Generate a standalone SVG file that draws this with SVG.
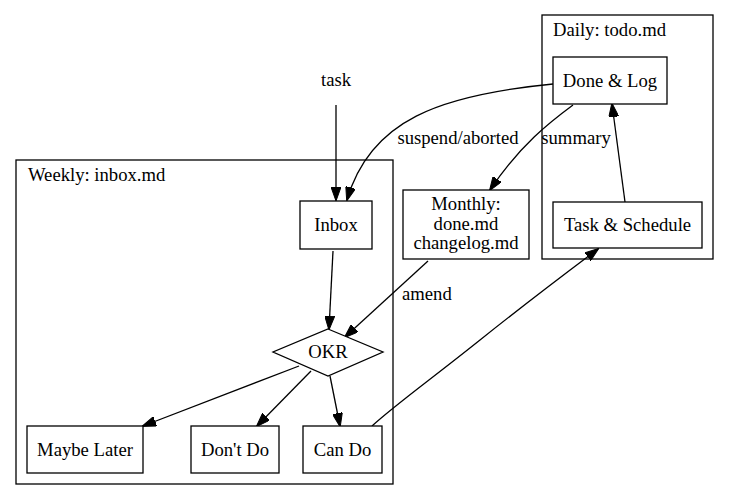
<svg xmlns="http://www.w3.org/2000/svg" width="729" height="501" viewBox="0 0 729 501">
<style>
text{font-family:"Liberation Serif","Times New Roman",serif;font-size:18.67px;fill:#000}
.c{text-anchor:middle}
.n{fill:#fff;stroke:#000;stroke-width:1.3}
.cl{fill:none;stroke:#000;stroke-width:1.3}
.e{fill:none;stroke:#000;stroke-width:1.3;marker-end:url(#ah)}
</style>
<defs>
<marker id="ah" markerUnits="userSpaceOnUse" markerWidth="14" markerHeight="10" viewBox="0 0 14 10" refX="13" refY="5" orient="auto">
<path d="M0,0 L14,5 L0,10 z" fill="#000" stroke="#000" stroke-width="1"/>
</marker>
</defs>
<rect width="729" height="501" fill="#fff"/>
<g id="cluster_weekly">
<rect class="cl" x="16" y="160" width="377" height="324"/>
<text x="28" y="181">Weekly: inbox.md</text>
</g>
<g id="cluster_daily">
<rect class="cl" x="542" y="15" width="171" height="244"/>
<text x="553" y="36">Daily: todo.md</text>
</g>
<g id="edges">
<path class="e" d="M336,105 L336,200"/>
<path class="e" d="M553,84 C440,95 370,120 347,200"/>
<path class="e" d="M573,105 C550,122 520,145 490,190"/>
<path class="e" d="M625,202 L612,104"/>
<path class="e" d="M372,426 C395,405 430,380 480,340 C530,300 570,270 598,249"/>
<path class="e" d="M333,251 L329,329"/>
<path class="e" d="M428,261 L345,337"/>
<path class="e" d="M299,366 L143,426"/>
<path class="e" d="M311,371 L257,426"/>
<path class="e" d="M330,376 L340,426"/>
<text class="c" x="458" y="144">suspend/aborted</text>
<text class="c" x="576" y="144">summary</text>
<text x="402" y="300">amend</text>
</g>
<g id="task"><text class="c" x="336" y="86">task</text></g>
<g id="inbox"><rect class="n" x="300" y="201" width="72" height="48"/><text class="c" x="336" y="231">Inbox</text></g>
<g id="okr"><polygon class="n" points="328,329 383,352 328,376 273,352"/><text class="c" x="328" y="358">OKR</text></g>
<g id="maybe_later"><rect class="n" x="27" y="426" width="116" height="47"/><text class="c" x="85" y="456">Maybe Later</text></g>
<g id="dont_do"><rect class="n" x="191" y="426" width="88" height="47"/><text class="c" x="235" y="456">Don't Do</text></g>
<g id="can_do"><rect class="n" x="303" y="426" width="79" height="47"/><text class="c" x="342.5" y="456">Can Do</text></g>
<g id="monthly"><rect class="n" x="403" y="190" width="126" height="69"/><text class="c" x="466" y="210">Monthly:</text><text class="c" x="466" y="230">done.md</text><text class="c" x="466" y="249">changelog.md</text></g>
<g id="done_log"><rect class="n" x="553" y="57" width="114" height="47"/><text class="c" x="610" y="87">Done &amp; Log</text></g>
<g id="task_schedule"><rect class="n" x="553" y="202" width="149" height="46"/><text class="c" x="627.5" y="231">Task &amp; Schedule</text></g>
</svg>
